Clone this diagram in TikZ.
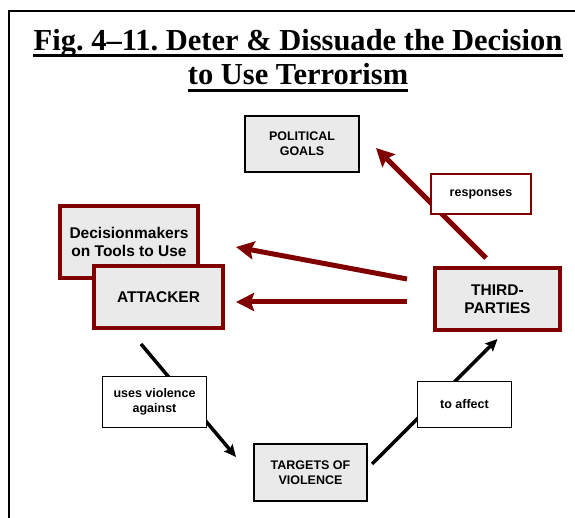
\documentclass[tikz,border=0pt]{standalone}
\usepackage{fontspec}
\setmainfont{Liberation Serif}
\newfontfamily\labelfont{Liberation Sans}
\usepackage{tikz}
\usetikzlibrary{arrows.meta, positioning, calc}
\definecolor{DeepRed} {RGB}{128, 0,   0}
\definecolor{BoxGray} {RGB}{234, 234, 234}
\frenchspacing

\begin{document}
\begin{tikzpicture}[
  x=1pt, y=-1pt,
  goal/.style = {
    rectangle, fill=BoxGray, draw=black,
    line width=2pt, inner sep=0pt, align=center,
    font=\labelfont\bfseries\fontsize{12.5}{15}\selectfont
  },
  actor/.style = {
    rectangle, fill=BoxGray, draw=DeepRed,
    line width=4pt, inner sep=0pt, align=center,
    font=\labelfont\bfseries\fontsize{15.5}{18.5}\selectfont
  },
  tag/.style = {
    rectangle, fill=white, draw=black,
    line width=1.2pt, inner sep=0pt, align=center,
    font=\labelfont\bfseries\fontsize{12.5}{14.5}\selectfont
  },
  title/.style = {
    anchor=base, inner sep=0pt,
    font=\bfseries\fontsize{30.5}{34}\selectfont
  },
  redarrow/.style = {-{Stealth[length=18pt, width=18pt, inset=3pt]}, line width=5pt, color=DeepRed},
  blackarrow/.style = {-{Stealth[length=12pt, width=11pt, inset=2pt]}, line width=3.5pt, color=black}
]
\useasboundingbox (0,0) rectangle (575,518);

% Frame
\draw[line width=1.5pt] (9,540) -- (9,11) -- (600,11);

% Title
\node[title] (title1) at (298,51) {Fig. 4--11. Deter \& Dissuade the Decision};
\node[title] (title2) at (298,85) {to Use Terrorism};
\draw[line width=3pt] ($(title1.base west)+(0,4.5)$) -- ($(title1.base east)+(0,4.5)$);
\draw[line width=3pt] ($(title2.base west)+(0,5.5)$) -- ($(title2.base east)+(0,5.5)$);

% Actors
\node[goal, minimum width=114pt, minimum height=56pt] (goals) at (302,144)
  {POLITICAL\\GOALS};
\node[actor, minimum width=138pt, minimum height=72pt] (decision) at (129,242)
  {Decisionmakers\\on Tools to Use};
\node[actor, minimum width=129pt, minimum height=62pt] (attacker) at (158.5,297)
  {ATTACKER};
\node[actor, minimum width=125pt, minimum height=62pt] (third) at (497.5,299)
  {THIRD-\\PARTIES};
\node[goal, minimum width=113pt, minimum height=57pt] (targets) at (310.5,472.5)
  {TARGETS OF\\VIOLENCE};

% Red arrows
\draw[redarrow] ($(third.north)+(-11.5,-8)$) -- ($(goals.east)+(16,4)$);
\draw[redarrow] ($(third.west)+(-26,-20)$) -- ($(decision.east)+(36,5)$);
\draw[redarrow] ($(third.west)+(-26,3)$) -- ($(attacker.east)+(11,5)$);

% Black arrows
\draw[blackarrow] ($(attacker.south)+(-17.5,14)$) -- ($(targets.west)+(-17,-15.5)$);
\draw[blackarrow] ($(targets.east)+(4,-8.5)$) -- ($(third.south)+(0,7)$);

% Labels on the arrows
\node[tag, draw=DeepRed, line width=2pt, minimum width=100pt, minimum height=40pt] (responses) at (481,194)
  {responses};
\node[tag, minimum width=104pt, minimum height=51pt] (uses) at (154.5,402)
  {uses violence\\against};
\node[tag, minimum width=94pt, minimum height=46pt] (affect) at (464.5,404.5)
  {to affect};

\end{tikzpicture}
\end{document}
